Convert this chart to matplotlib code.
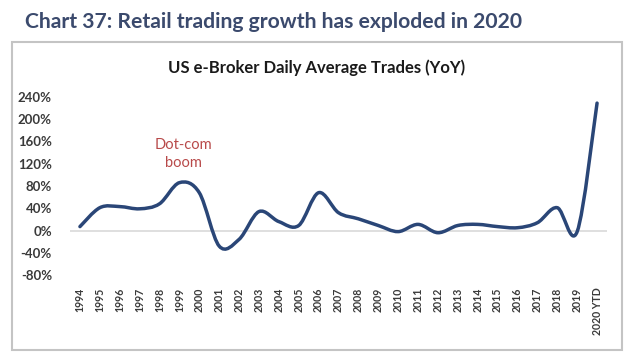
import numpy as np
import matplotlib
matplotlib.use("Agg")
import matplotlib.pyplot as plt
from matplotlib.path import Path
from matplotlib.patches import PathPatch, Rectangle

# YoY growth of US e-broker daily average trades (%)
years = ["1994", "1995", "1996", "1997", "1998", "1999", "2000", "2001", "2002",
         "2003", "2004", "2005", "2006", "2007", "2008", "2009", "2010", "2011",
         "2012", "2013", "2014", "2015", "2016", "2017", "2018", "2019", "2020 YTD"]
growth = [7, 41, 43, 39, 48, 86, 68, -28, -16, 34, 16, 9, 68, 32, 21, 9, -2, 11,
          -4, 9, 11, 7, 5, 14, 41, -2, 229]
yticks = [-80, -40, 0, 40, 80, 120, 160, 200, 240]


def smooth_path(x, y, t=1 / 6):
    # Excel-style smoothed line: cubic Bezier segments through every point
    verts = [(x[0], y[0])]
    codes = [Path.MOVETO]
    n = len(x)
    for i in range(n - 1):
        p0 = (x[max(i - 1, 0)], y[max(i - 1, 0)])
        p1 = (x[i], y[i])
        p2 = (x[i + 1], y[i + 1])
        p3 = (x[min(i + 2, n - 1)], y[min(i + 2, n - 1)])
        c1 = (p1[0] + (p2[0] - p0[0]) * t, p1[1] + (p2[1] - p0[1]) * t)
        c2 = (p2[0] - (p3[0] - p1[0]) * t, p2[1] - (p3[1] - p1[1]) * t)
        verts += [c1, c2, p2]
        codes += [Path.CURVE4] * 3
    return Path(verts, codes)


W, H = 630, 354
fig = plt.figure(figsize=(W / 100, H / 100), dpi=100)
fig.patch.set_facecolor("white")

fig.text(25 / W, 1 - 22 / H, "Chart 37: Retail trading growth has exploded in 2020",
         fontsize=15.2, fontweight="bold", color="#3b4a6d", family="Lato",
         va="center", ha="left")

# chart frame
fig.patches.append(Rectangle((12 / W, 4 / H), 610 / W, 308 / H, transform=fig.transFigure,
                             fill=False, edgecolor="#c4c4c4", linewidth=1.5))

fig.text(317 / W, 1 - 68 / H, "US e-Broker Daily Average Trades (YoY)",
         fontsize=12, fontweight="bold", color="#1a1a1a", family="Lato",
         va="center", ha="center")

ax = fig.add_axes([70 / W, 1 - 275 / H, 537 / W, 178 / H])
x = np.arange(len(years))
ax.set_xlim(-0.5, len(years) - 0.5)
ax.set_ylim(-80, 240)
ax.axhline(0, color="#d9d9d9", linewidth=1.2, zorder=1)

ax.add_patch(PathPatch(smooth_path(x, growth), facecolor="none", edgecolor="#2a4677",
                       linewidth=2.5, capstyle="round", joinstyle="round", zorder=3))

ax.set_yticks(yticks)
ax.set_yticklabels([f"{v}%" for v in yticks], fontsize=9.5, family="Lato",
                   fontweight="bold", color="#3a3a3a")
ax.set_xticks(x)
ax.set_xticklabels(years, rotation=90, fontsize=7.6, family="Lato",
                   fontweight="bold", color="#3a3a3a", va="top")
ax.tick_params(length=0)
ax.tick_params(axis="y", pad=13)
ax.tick_params(axis="x", pad=9)
for s in ax.spines.values():
    s.set_visible(False)

ax.text(5.2, 138, "Dot-com\nboom", color="#b84a4a", fontsize=10.5, family="Lato",
        ha="center", va="center", linespacing=1.35)

fig.savefig("out.png", dpi=100)
